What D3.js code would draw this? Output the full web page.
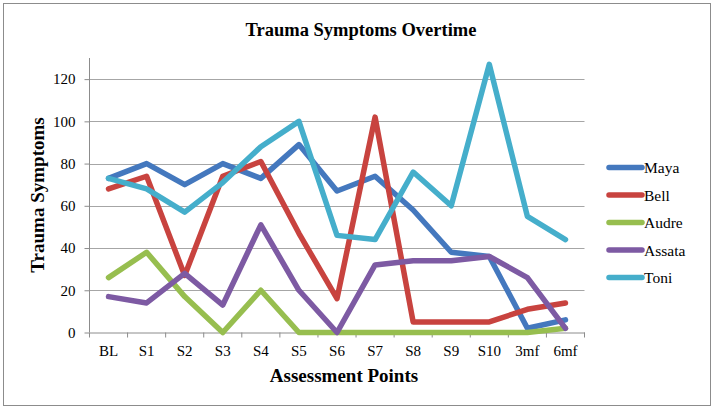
<!DOCTYPE html>
<html><head><meta charset="utf-8">
<script src="https://cdn.jsdelivr.net/npm/d3@7"></script>
<style>body{margin:0;background:#fff}svg{display:block}</style>
</head><body><svg id="c" width="714" height="411"></svg>
<script>
const categories = ["BL","S1","S2","S3","S4","S5","S6","S7","S8","S9","S10","3mf","6mf"];
const maya   = [73, 80, 70, 80, 73, 89, 67, 74, 58, 38, 36, 2, 6];
const bell   = [68, 74, 27, 74, 81, 47, 16, 102, 5, 5, 5, 11, 14];
const audre  = [26, 38, 17, 0, 20, 0, 0, 0, 0, 0, 0, 0, 2];
const assata = [17, 14, 28, 13, 51, 20, 0, 32, 34, 34, 36, 26, 2];
const toni   = [73, 68, 57, 71, 88, 100, 46, 44, 76, 60, 127, 55, 44];
const seriesNames = ["Maya","Bell","Audre","Assata","Toni"];
const seriesColors = ["#4478BE","#C8433F","#97BE4F","#7D5AA3","#45AECB"];
const yTicks = [0,20,40,60,80,100,120];

const FONT = "'Liberation Serif','Times New Roman',serif";
const series = [maya,bell,audre,assata,toni].map((v,i)=>({name:seriesNames[i],color:seriesColors[i],values:v}));
const svg = d3.select("#c");
svg.append("rect").attr("x",3.5).attr("y",3.5).attr("width",707).attr("height",402)
  .attr("fill","#fff").attr("stroke","#8c8c8c").attr("stroke-width",1);

const L=89.5, R=584.5, T=58, B=332.5;
const x = d3.scaleBand().domain(categories).range([L,R]);
const y = d3.scaleLinear().domain([0,130]).range([B,T]);

svg.append("g").selectAll("line").data(yTicks.filter(d=>d>0)).join("line")
  .attr("x1",L).attr("x2",R).attr("y1",d=>Math.round(y(d))+0.5).attr("y2",d=>Math.round(y(d))+0.5)
  .attr("stroke","#a6a6a6").attr("stroke-width",1);

const ya = svg.append("g").attr("transform",`translate(${L},0)`)
  .call(d3.axisLeft(y).tickValues(yTicks).tickSize(5).tickPadding(9));
ya.attr("font-family",FONT).attr("font-size",15);
ya.select(".domain").attr("stroke","#8c8c8c").attr("d",`M-0,${T}V${B}`);
ya.selectAll(".tick line").attr("stroke","#8c8c8c");
ya.selectAll("text").attr("fill","#000");

const xa = svg.append("g").attr("transform",`translate(0,${B})`)
  .call(d3.axisBottom(x).tickSize(0).tickPadding(13));
xa.attr("font-family",FONT).attr("font-size",15);
xa.select(".domain").attr("stroke","#8c8c8c");
xa.selectAll("text").attr("fill","#000");
const tickPos = d3.range(categories.length+1).map(i=>L+i*x.step());
xa.selectAll(".bt").data(tickPos).join("line").attr("class","bt")
  .attr("x1",d=>d).attr("x2",d=>d).attr("y1",0).attr("y2",5).attr("stroke","#8c8c8c");

const line = d3.line().x((d,i)=>x(categories[i])+x.bandwidth()/2).y(d=>y(d));
svg.append("g").selectAll("path").data(series).join("path")
  .attr("d",d=>line(d.values)).attr("fill","none").attr("stroke",d=>d.color)
  .attr("stroke-width",5.5).attr("stroke-linejoin","round").attr("stroke-linecap","round");

svg.append("text").attr("x",361).attr("y",36).attr("text-anchor","middle").attr("font-family",FONT)
  .attr("font-size",18.5).attr("font-weight","bold").text("Trauma Symptoms Overtime");
svg.append("text").attr("x",344).attr("y",382).attr("text-anchor","middle").attr("font-family",FONT)
  .attr("font-size",19).attr("font-weight","bold").text("Assessment Points");
svg.append("text").attr("transform","translate(44,195) rotate(-90)").attr("text-anchor","middle").attr("font-family",FONT)
  .attr("font-size",19).attr("font-weight","bold").text("Trauma Symptoms");

const lg = svg.append("g").selectAll("g").data(series).join("g")
  .attr("transform",(d,i)=>`translate(0,${167.5+i*27.5})`);
lg.append("line").attr("x1",609).attr("x2",642).attr("y1",0).attr("y2",0)
  .attr("stroke",d=>d.color).attr("stroke-width",5.5).attr("stroke-linecap","round");
lg.append("text").attr("x",644).attr("y",5.5).attr("font-family",FONT).attr("font-size",15.5).text(d=>d.name);
</script></body></html>
